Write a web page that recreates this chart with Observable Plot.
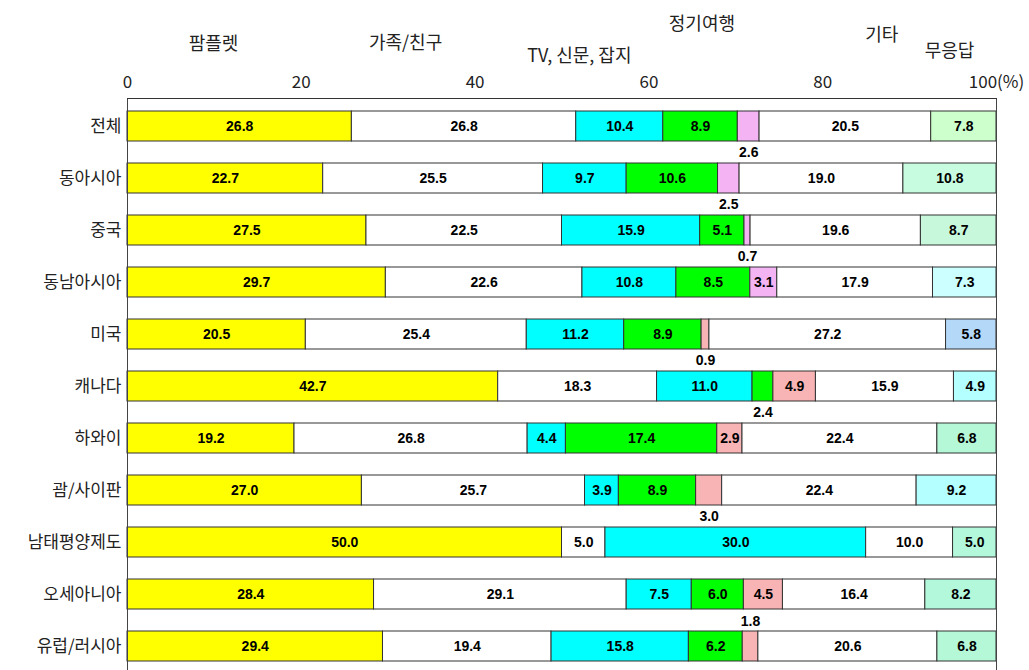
<!DOCTYPE html>
<html>
<head>
<meta charset="utf-8">
<script src="https://cdn.jsdelivr.net/npm/d3@7"></script>
<script src="https://cdn.jsdelivr.net/npm/@observablehq/plot@0.6"></script>
<style>
  html, body { margin: 0; padding: 0; background: #fff; overflow: hidden; }
  #chart svg { display: block; }
</style>
</head>
<body>
<div id="chart"></div>
<script>
// ---- Data ----
const regions = ["전체","동아시아","중국","동남아시아","미국","캐나다","하와이","괌/사이판","남태평양제도","오세아니아","유럽/러시아"];
const sources = ["팜플렛","가족/친구","TV, 신문, 잡지","정기여행","미표기 항목","기타","무응답"];

const pamphlet  = [26.8, 22.7, 27.5, 29.7, 20.5, 42.7, 19.2, 27.0, 50.0, 28.4, 29.4];
const family    = [26.8, 25.5, 22.5, 22.6, 25.4, 18.3, 26.8, 25.7,  5.0, 29.1, 19.4];
const media     = [10.4,  9.7, 15.9, 10.8, 11.2, 11.0,  4.4,  3.9, 30.0,  7.5, 15.8];
const regular   = [ 8.9, 10.6,  5.1,  8.5,  8.9,  2.4, 17.4,  8.9,  0.0,  6.0,  6.2];
const unlabeled = [ 2.6,  2.5,  0.7,  3.1,  0.9,  4.9,  2.9,  3.0,  0.0,  4.5,  1.8];
const other     = [20.5, 19.0, 19.6, 17.9, 27.2, 15.9, 22.4, 22.4, 10.0, 16.4, 20.6];
const noAnswer  = [ 7.8, 10.8,  8.7,  7.3,  5.8,  4.9,  6.8,  9.2,  5.0,  8.2,  6.8];

const tickValues = [0, 20, 40, 60, 80, 100];
const headerLabels = ["팜플렛", "가족/친구", "TV, 신문, 잡지", "정기여행", "기타", "무응답"];

// ---- Colours ----
const seriesColors = ["#ffff00", "#ffffff", "#00ffff", "#00ff00", null, "#ffffff", null];
const unlabeledColors = ["#f4b4f4","#f4b4f4","#f4b4f4","#f4b4f4","#f8b4b4","#f8b4b4","#f8b4b4","#f8b4b4","#f8b4b4","#f8b4b4","#f8b4b4"];
const noAnswerColors = ["#ccffcc","#c8fce0","#c8f8dc","#ccffff","#b4d8f8","#b4ffff","#b4f8d8","#b4ffff","#b4f8dc","#b4f8dc","#b4f8d8"];

// value labels that sit outside their (narrow) segment
const outsideLabels = [
  ["전체", "미표기 항목", "below"],
  ["동아시아", "미표기 항목", "below"],
  ["중국", "미표기 항목", "below"],
  ["미국", "미표기 항목", "below"],
  ["캐나다", "정기여행", "below"],
  ["괌/사이판", "미표기 항목", "below"],
  ["유럽/러시아", "미표기 항목", "above"]
];

// ---- Build table ----
const seriesValues = [pamphlet, family, media, regular, unlabeled, other, noAnswer];
const table = [];
regions.forEach((r, i) => {
  sources.forEach((s, j) => {
    let color = seriesColors[j];
    if (j === 4) color = unlabeledColors[i];
    if (j === 6) color = noAnswerColors[i];
    const out = outsideLabels.find(o => o[0] === r && o[1] === s);
    table.push({region: r, source: s, value: seriesValues[j][i], color, place: out ? out[2] : "inside"});
  });
});

// header label layout (x as share of the total, dy offset from the frame top)
const headerLayout = [
  {x: 0.099, dy: -61},
  {x: 0.320, dy: -62},
  {x: 0.520, dy: -49},
  {x: 0.661, dy: -81},
  {x: 0.868, dy: -70},
  {x: 0.946, dy: -54}
];
const headerMarks = headerLabels.map((label, i) =>
  Plot.text([label], {
    x: () => headerLayout[i].x,
    text: d => d,
    frameAnchor: "top",
    dy: headerLayout[i].dy,
    fontSize: 18,
    fill: "#222",
    fontFamily: "'Noto Sans CJK KR', sans-serif"
  })
);

const stackOpts = {x: "value", y: "region", z: "source", offset: "normalize", order: null};
const fmt = v => v.toFixed(1);
const labelFont = {fontFamily: "'Liberation Sans', Arial, sans-serif", fontWeight: "bold", fontSize: 14, fill: "#000"};

const chart = Plot.plot({
  width: 1029,
  height: 675,
  marginTop: 98,
  marginLeft: 127,
  marginRight: 33,
  marginBottom: 0,
  style: {fontFamily: "'Noto Sans CJK KR', sans-serif", fontSize: "17px", color: "#222", background: "#fff"},
  color: {type: "identity"},
  x: {
    axis: "top",
    domain: [0, 1],
    ticks: tickValues.map(t => t / 100),
    tickFormat: d => Math.round(d * 100) === 100 ? "100(%)" : String(Math.round(d * 100)),
    tickSize: 0,
    tickPadding: 11,
    label: null
  },
  y: {
    domain: regions,
    paddingInner: 0.42,
    paddingOuter: 0.237,
    tickSize: 0,
    tickPadding: 6,
    label: null
  },
  marks: [
    Plot.barX(table, Plot.stackX({...stackOpts, fill: "color", stroke: "#333", strokeWidth: 1})),
    Plot.text(table, Plot.stackX({...stackOpts, text: d => d.value > 0 && d.place === "inside" ? fmt(d.value) : "", ...labelFont})),
    Plot.text(table, Plot.stackX({...stackOpts, text: d => d.value > 0 && d.place === "below" ? fmt(d.value) : "", dy: 26, ...labelFont})),
    Plot.text(table, Plot.stackX({...stackOpts, text: d => d.value > 0 && d.place === "above" ? fmt(d.value) : "", dy: -25, ...labelFont})),
    Plot.ruleX([0, 1], {stroke: "#444", strokeWidth: 1}),
    Plot.frame({anchor: "top", stroke: "#333"}),
    ...headerMarks
  ]
});

document.getElementById("chart").appendChild(chart);
</script>
</body>
</html>
